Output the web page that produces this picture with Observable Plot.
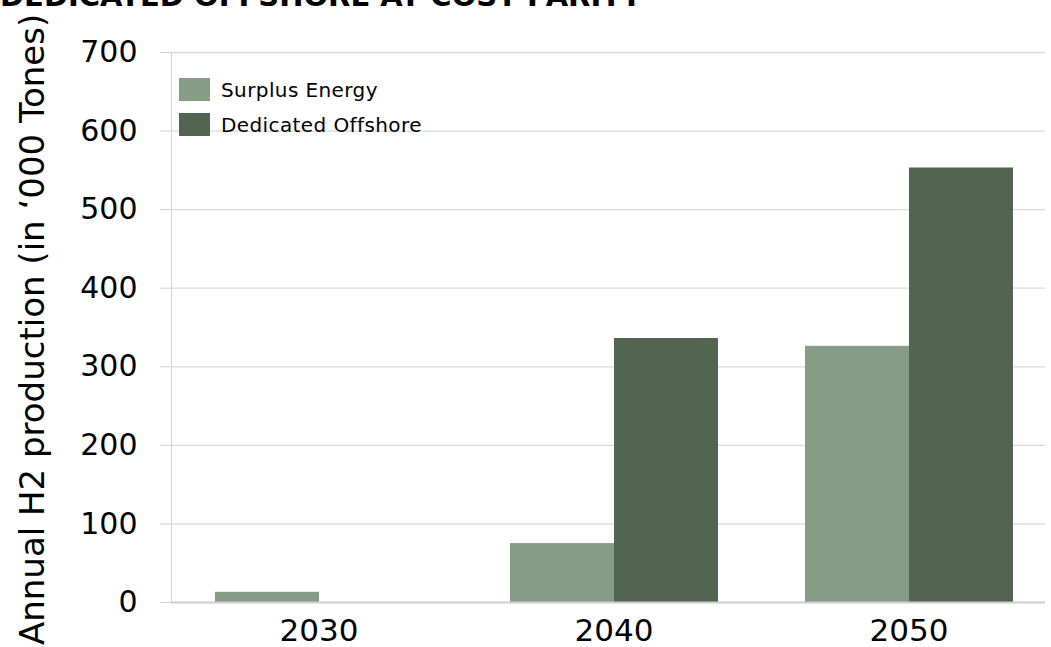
<!DOCTYPE html>
<html><head><meta charset="utf-8">
<script src="https://cdn.jsdelivr.net/npm/d3@7"></script>
<script src="https://cdn.jsdelivr.net/npm/@observablehq/plot@0.6"></script>
<style>
body{margin:0;background:#fff;font-family:"DejaVu Sans",Verdana,sans-serif;}
#wrap{position:relative;width:1051px;height:647px;overflow:hidden;}
#chart{position:absolute;left:0;top:0;width:1051px;height:647px;clip-path:inset(0 6px 0 0);}
#title{position:absolute;left:0;top:-18px;font-size:29px;font-weight:bold;line-height:29px;white-space:nowrap;color:#000;}
#ylab{position:absolute;left:15px;top:645px;transform-origin:0 0;transform:rotate(-90deg);font-size:34px;line-height:34px;white-space:nowrap;color:#000;}
#legend{position:absolute;left:179px;top:78px;}
.row{display:flex;align-items:center;height:23px;margin-bottom:12px;font-size:20px;letter-spacing:0.4px;color:#000;}
.sw{width:31px;height:23px;margin-right:11px;}
#chart svg text{fill:#000;}
#chart [aria-label^="y-axis"] text{font-size:30px;}
#chart [aria-label^="fx-axis"] text{font-size:31px;}
</style></head>
<body>
<div id="wrap">
  <div id="chart"></div>
  <div id="title"></div>
  <div id="ylab"></div>
  <div id="legend"></div>
</div>
<script>
const titleText = "DEDICATED OFFSHORE AT COST PARITY";
const yLabel = "Annual H2 production (in \u2018000 Tones)";
const years = ["2030", "2040", "2050"];
const series = ["Surplus Energy", "Dedicated Offshore"];
const surplus = [13, 75, 326];
const dedicated = [0, 336, 553];
const yTicks = [0, 100, 200, 300, 400, 500, 600, 700];
const colors = ["#869c84", "#526550"];

const rows = years.flatMap((y, i) => [
  {year: y, series: series[0], value: surplus[i]},
  {year: y, series: series[1], value: dedicated[i]}
]);

document.getElementById("title").textContent = titleText;
document.getElementById("ylab").textContent = yLabel;
const legend = document.getElementById("legend");
series.forEach((s, i) => {
  const r = document.createElement("div");
  r.className = "row";
  const sw = document.createElement("div");
  sw.className = "sw";
  sw.style.background = colors[i];
  const t = document.createElement("span");
  t.textContent = s;
  r.appendChild(sw); r.appendChild(t);
  legend.appendChild(r);
});

const chart = Plot.plot({
  width: 1051, height: 647,
  marginLeft: 171, marginRight: 6, marginTop: 52, marginBottom: 45,
  style: {fontFamily: "DejaVu Sans, sans-serif", color: "#d0d0d0", background: "transparent"},
  facet: {data: rows, x: "year"},
  fx: {domain: years, range: [170.5, 1055.5], padding: 0, axis: "bottom", tickSize: 0, tickPadding: 16, label: null},
  x: {domain: series, axis: null, paddingInner: 0, paddingOuter: 0.405},
  y: {domain: [0, 700], ticks: yTicks, tickSize: 11, tickPadding: 23, label: null, line: true},
  color: {domain: series, range: colors},
  marks: [
    Plot.ruleY(yTicks, {stroke: "#dadada", strokeWidth: 1.3}),
    Plot.barY(rows, {x: "series", y: "value", fill: "series", inset: 0}),
    Plot.ruleY([0], {stroke: "#d0d0d0", strokeWidth: 2})
  ]
});
document.getElementById("chart").appendChild(chart);
</script>
</body></html>
